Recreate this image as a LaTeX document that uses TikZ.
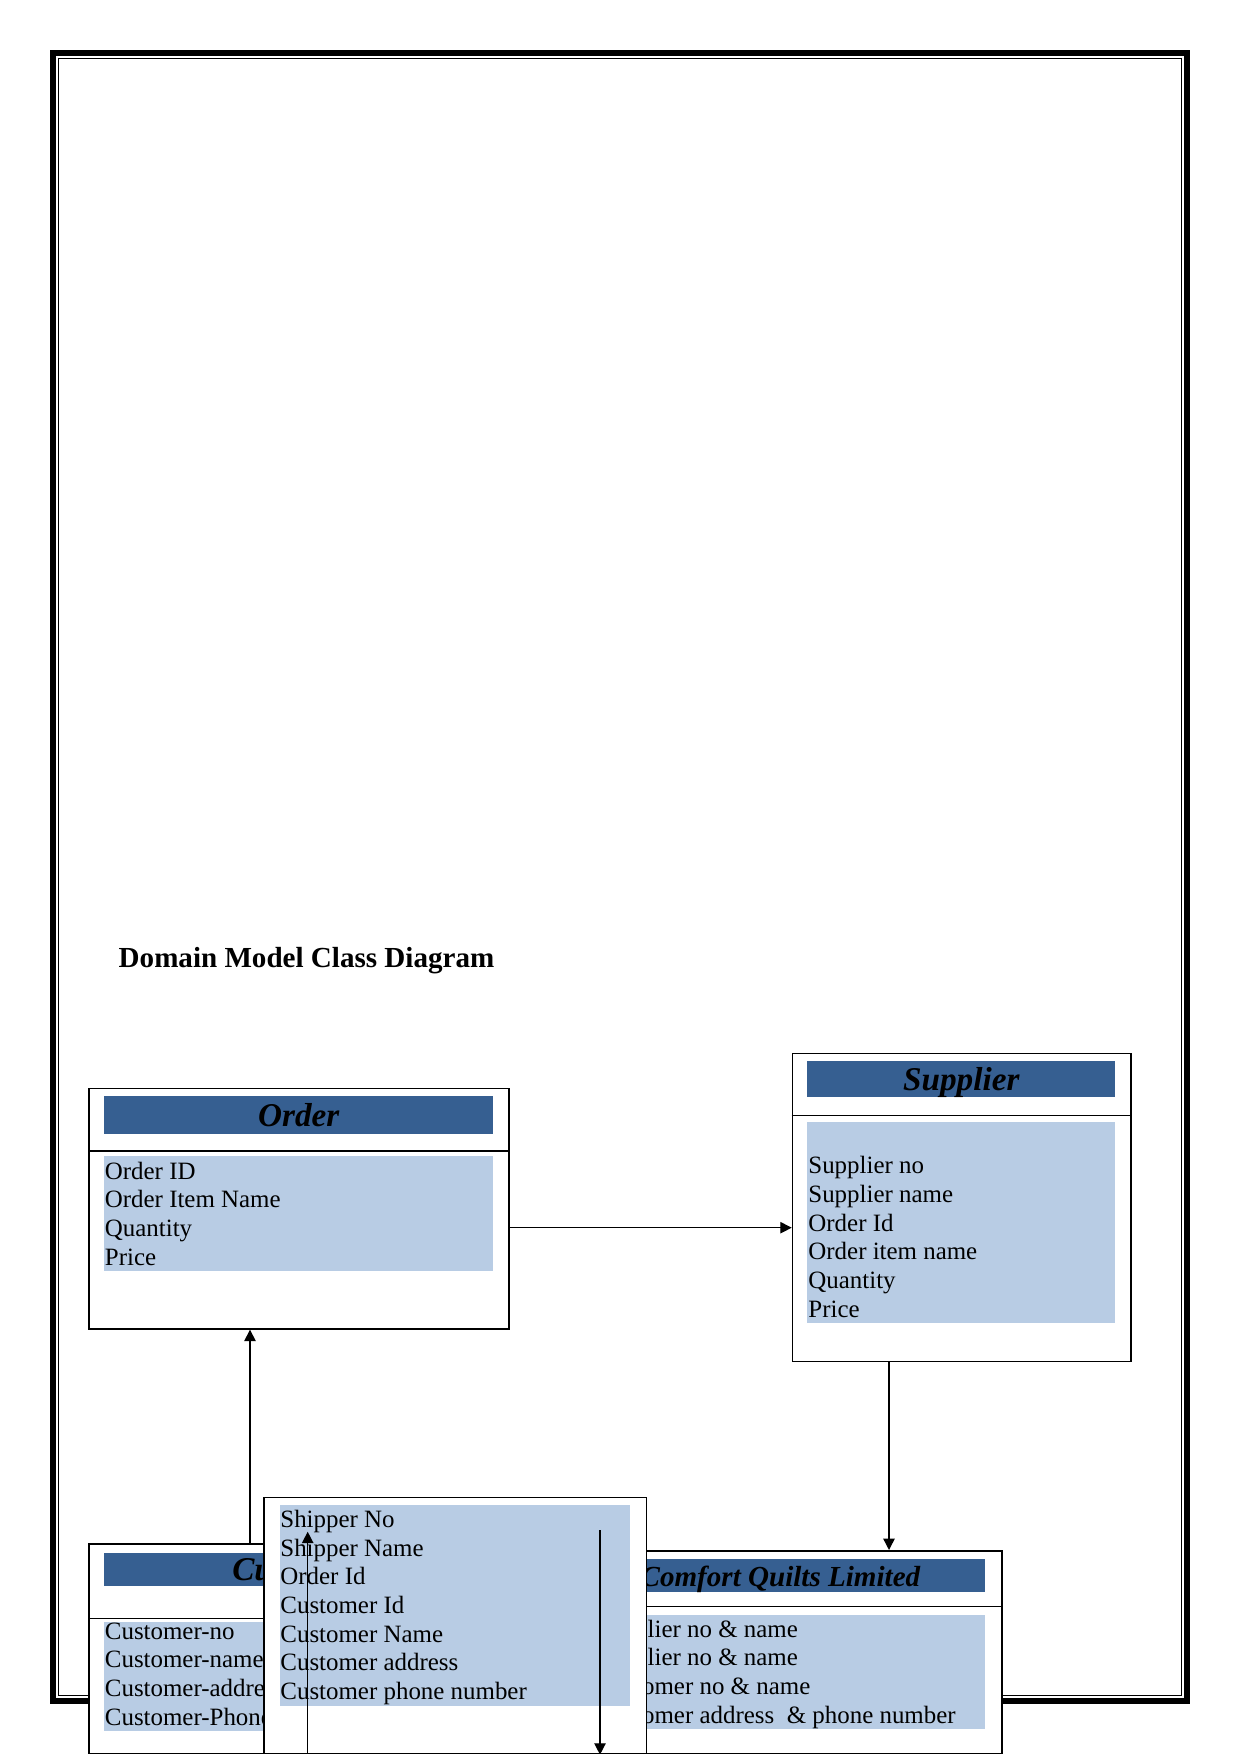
\documentclass[tikz,border=0pt]{standalone}
\usepackage{fontspec}
\setmainfont{Liberation Serif}
\usetikzlibrary{arrows.meta,positioning}

\definecolor{titleblue}{RGB}{54,95,145}
\definecolor{attrblue}{RGB}{184,204,228}
\newcommand\pxu{0.16922mm}

\tikzset{
  classbox/.style={draw, line width=0.8pt, fill=white, inner sep=0pt, anchor=north west},
  titlebar/.style={fill=titleblue, inner sep=0pt, anchor=north west, text height=11pt, text depth=0pt,
    font=\bfseries\itshape\fontsize{16}{19}\selectfont},
  attrfill/.style={fill=attrblue, inner sep=0pt, anchor=north west},
  % multi-line node: base anchor sits on the last line
  attrlist/.style={anchor=base west, inner sep=0pt, align=left, font=\fontsize{12}{13.8}\selectfont},
  conn/.style={-{Triangle[length=5.5pt,width=5.5pt]}, line width=0.65pt},
}

\begin{document}
\begin{tikzpicture}[x=\pxu, y=-\pxu]
    \useasboundingbox (0,0) rectangle (1241,1754);

    % Page border (thick outside, thin inside)
    \draw[line width=2.9pt] (53.4,52.9) rectangle (1186.5,1700.5);
    \draw[line width=0.5pt] (58.6,58.3) rectangle (1181.7,1695.5);

    % Heading
    \node[anchor=base west, inner sep=0pt, font=\bfseries\fontsize{14}{16.8}\selectfont] (title) at (118.3,967.3) {Domain Model Class Diagram};

    % Class Order
    \node[classbox, minimum width=419.9*\pxu, minimum height=240.5*\pxu] (order) at (88.4,1087.5) {};
    \node[titlebar, minimum width=388.7*\pxu, minimum height=37.3*\pxu] (orderT) at (104,1096) {Order};
    \draw[line width=0.5pt] (88.4,1151) -- (508.3,1151);
    \node[attrfill, minimum width=388.7*\pxu, minimum height=115*\pxu] (orderA) at (104,1155.7) {};
    \node[attrlist] (orderL) at (104.5,1265.2) {Order ID\\Order Item Name\\Quantity\\Price};

    % Class Supplier
    \node[classbox, minimum width=338.6*\pxu, minimum height=308*\pxu] (supplier) at (791.7,1052.7) {};
    \node[titlebar, minimum width=307.7*\pxu, minimum height=35.7*\pxu] (supplierT) at (807,1061) {Supplier};
    \draw[line width=0.5pt] (791.7,1115.3) -- (1130.3,1115.3);
    \node[attrfill, minimum width=307.7*\pxu, minimum height=200.7*\pxu] (supplierA) at (807,1122) {};
    \node[attrlist] (supplierL) at (808,1317) {Supplier no\\Supplier name\\Order Id\\Order item name\\Quantity\\Price};

    % Class Comfort Quilts Limited
    \node[classbox, minimum width=442*\pxu, minimum height=202.7*\pxu] (comfort) at (559,1550) {};
    \node[titlebar, minimum width=410*\pxu, minimum height=33.4*\pxu, font=\bfseries\itshape\fontsize{14}{17}\selectfont] (comfortT) at (575,1558.3) {Comfort Quilts Limited};
    \draw[line width=0.5pt] (559,1606.7) -- (1001,1606.7);
    \node[attrfill, minimum width=410*\pxu, minimum height=114*\pxu] (comfortA) at (575,1614.3) {};
    \node[attrlist] (comfortL) at (596,1723.2) {Supplier no \& name\\Supplier no \& name\\Customer no \& name\\Customer address \ \& phone number};

    % Class Customer
    \node[classbox, minimum width=419.9*\pxu, minimum height=209.4*\pxu] (customer) at (88.4,1543.3) {};
    \node[titlebar, minimum width=388.7*\pxu, minimum height=33.4*\pxu] (customerT) at (104,1552.3) {Customer};
    \draw[line width=0.5pt] (88.4,1618.3) -- (508.3,1618.3);
    \node[attrfill, minimum width=388.7*\pxu, minimum height=108.6*\pxu] (customerA) at (104,1621.7) {};
    \node[attrlist] (customerL) at (104.5,1725.2) {Customer-no\\Customer-name\\Customer-address\\Customer-Phone};

    % Class Shipper (on top)
    \node[classbox, minimum width=382.4*\pxu, minimum height=256.3*\pxu] (shipper) at (263.3,1496.7) {};
    \node[attrfill, minimum width=350.7*\pxu, minimum height=200.7*\pxu] (shipperA) at (279.3,1505) {};
    \node[attrlist] (shipperL) at (280,1699.4) {Shipper No\\Shipper Name\\Order Id\\Customer Id\\Customer Name\\Customer address\\Customer phone number};

    % Associations
    \draw[conn] (order.east |- 0,1227.7) -- (supplier.west |- 0,1227.7);
    \draw[conn] (customer.north -| 250,0) -- (order.south -| 250,0);
    \draw[conn] (supplier.south -| 889,0) -- (comfort.north -| 889,0);

    % Arrows inside Shipper
    \coordinate (upEnd) at (307.7,1531.7);
    \coordinate (downStart) at (600,1530);
    \draw[conn] (shipper.south -| upEnd) -- (upEnd);
    \draw[conn] (downStart) -- (shipper.south -| downStart);
\end{tikzpicture}
\end{document}
